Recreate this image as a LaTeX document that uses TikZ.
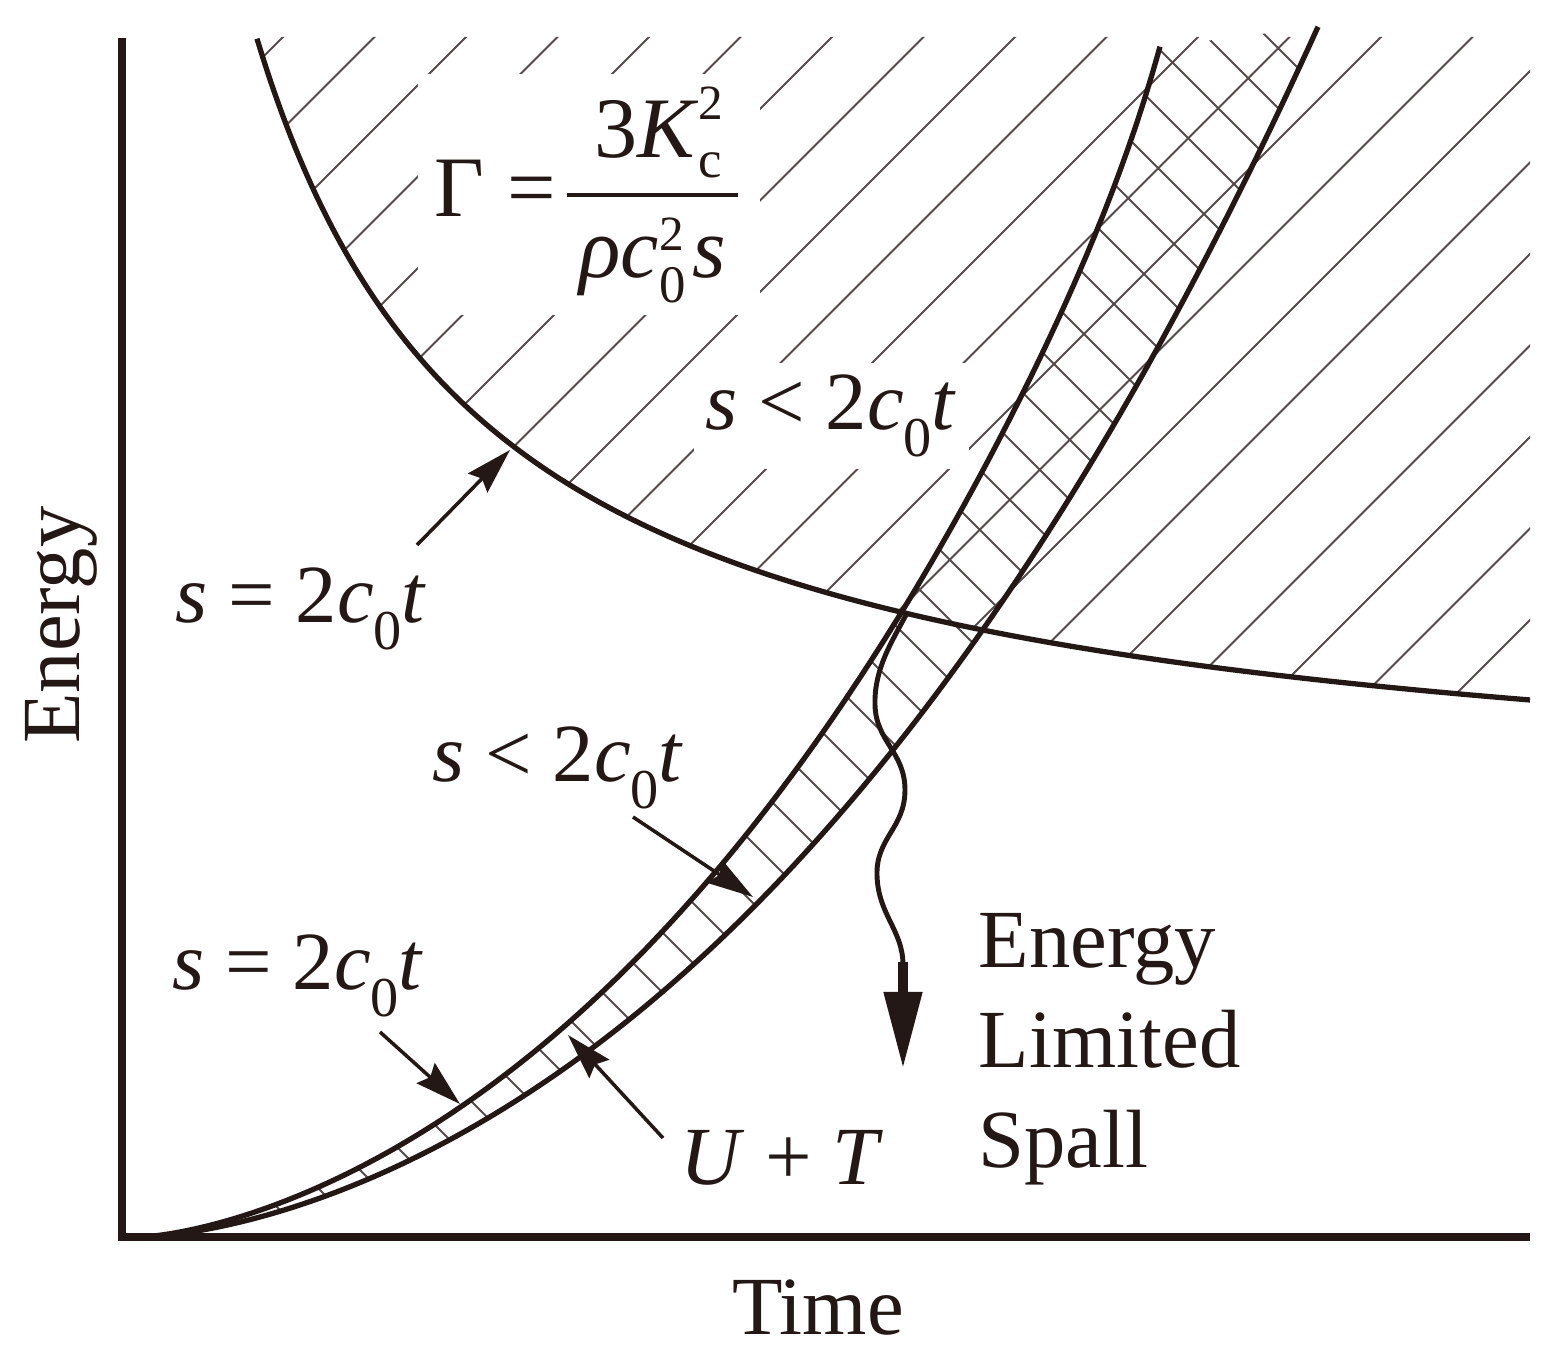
\documentclass[tikz,border=0pt]{standalone}
\usepackage{fontspec}
\setmainfont{Liberation Serif}
\usetikzlibrary{arrows.meta}
\definecolor{ink}{RGB}{35,24,21}
\definecolor{hatchc}{RGB}{85,75,75}
\newcommand\lbl{\fontsize{23.5}{28}\selectfont}
\newcommand\vi[1]{\textit{#1}}
\newcommand\zsub[1]{\raisebox{-0.32em}{\fontsize{16}{16}\selectfont #1}}
\newcommand\stk[4]{\makebox[0pt][l]{\raisebox{#3}{\fontsize{14}{14}\selectfont #1}}\raisebox{#4}{\fontsize{15}{15}\selectfont #2}}
\begin{document}
\begin{tikzpicture}[x=0.01cm,y=-0.01cm,
  declare function={
    fh(\t)=823.1-1859/(\t-20)*100;
    fu(\t)=1237-exp(-3.841+1.472*ln(\t-140)+0.000678*(\t-140))-48*exp((\t-1160)/40);
    fl(\t)=1237-exp(-4.579+1.570*ln(\t-140)+0.000481*(\t-140));
  },
  curve/.style={draw=ink,line width=1.5pt},
  axisline/.style={draw=ink,line width=2pt,line join=miter},
  hatch/.style={draw=hatchc,line width=0.55pt},
  lab/.style={inner sep=0pt,text=ink,font=\lbl},
  arr/.style={draw=ink,line width=1pt,-{Stealth[length=0.46cm,width=0.27cm,inset=0.06cm]}},
  wavy/.style={draw=ink,line width=1.4pt,-{Triangle[length=0.75cm,width=0.38cm]}}]
\useasboundingbox (0,0) rectangle (1556,1370);
% hatching above the Gamma curve
\begin{scope}
\clip plot[domain=257:1530,samples=300] (\x,{fh(\x)}) -- (1530,37) -- (257,37) -- cycle;
\foreach \k in {-1,...,22}{\pgfmathsetmacro\cc{320+91.5*\k}\draw[hatch] (\cc+100,-100) -- (\cc-1500,1500);}
\end{scope}
% hatching in the band between the two rising curves
\begin{scope}
\clip plot[domain=141:1160,samples=250] (\x,{fu(\x)}) -- plot[domain=141:1318,samples=250] ({1459-\x},{fl(1459-\x)}) -- cycle;
\foreach \k in {-16,...,25}{\pgfmathsetmacro\dd{-210+60*\k}\draw[hatch] (\dd-100,-100) -- (\dd+1500,1500);}
\end{scope}
% labels with white background
\node[inner xsep=0.17cm,inner ysep=0.12cm,fill=white,text=ink,anchor=base west] (gamma) at (417,217)
 {\fontsize{24.5}{28}\selectfont $\displaystyle\hbox{Γ\kern6.5pt=\kern2pt}{\hbox{\kern3pt 3\vi{K}\stk{2}{c}{0.45em}{-0.23em}}\above1.1pt\hbox{\kern3.5pt\vi{ρc}\stk{2}{0}{0.31em}{-0.3em}\kern2pt\vi{s}\kern3.5pt}}$};
\node[lab,inner sep=0.12cm,fill=white,anchor=base west] (slt1) at (693,430) {\vi{s}\ <\ 2\vi{c}\zsub{0}\vi{t}};
% curves
\draw[curve] plot[domain=257:1530,samples=300] (\x,{fh(\x)});
\draw[curve] plot[domain=141:1160,samples=250] (\x,{fu(\x)});
\draw[curve] plot[domain=141:1318,samples=250] (\x,{fl(\x)});
% axes
\coordinate (ytop) at (122,38);
\coordinate (orig) at (122,1237);
\coordinate (xend) at (1530,1237);
\draw[axisline] (ytop) -- (orig) -- (xend);
% labels
\node[lab,anchor=base west] (seq1) at (175,623) {\vi{s}\ =\ 2\vi{c}\zsub{0}\vi{t}};
\node[lab,anchor=base west] (slt2) at (432,782) {\vi{s}\ <\ 2\vi{c}\zsub{0}\vi{t}};
\node[lab,anchor=base west] (seq2) at (172,990) {\vi{s}\ =\ 2\vi{c}\zsub{0}\vi{t}};
\node[lab,anchor=base west] (ut) at (680,1185) {\vi{U}\ +\ \vi{T}};
\node[lab,anchor=base west] (sp1) at (978,968) {Energy};
\node[lab,anchor=base west] (sp2) at (978,1068) {Limited};
\node[lab,anchor=base west] (sp3) at (978,1168) {Spall};
\node[lab,anchor=base,rotate=90] (ylab) at (80,625) {Energy};
\node[lab,anchor=base] (xlab) at (818,1335) {Time};
% arrows
\coordinate (a1t) at (417,545); \coordinate (a1h) at (510,450);
\coordinate (a2t) at (633,817); \coordinate (a2h) at (753,897);
\coordinate (a3t) at (380,1032); \coordinate (a3h) at (460,1104);
\coordinate (a4t) at (663,1138); \coordinate (a4h) at (568,1035);
\draw[arr] (a1t) -- (a1h);
\draw[arr] (a2t) -- (a2h);
\draw[arr] (a3t) -- (a3h);
\draw[arr] (a4t) -- (a4h);
% wavy arrow
\coordinate (wstart) at (907,613);
\coordinate (wtip) at (903,1067);
\draw[wavy] (wstart) .. controls (893,640) and (874,668) .. (875,705)
  .. controls (876,742) and (905,752) .. (905,790)
  .. controls (905,828) and (876,838) .. (877,875)
  .. controls (878,915) and (903,930) .. (903,965) -- (wtip);
\draw[ink,line width=2.8pt] (903,962) -- (903,996);
\end{tikzpicture}
\end{document}
